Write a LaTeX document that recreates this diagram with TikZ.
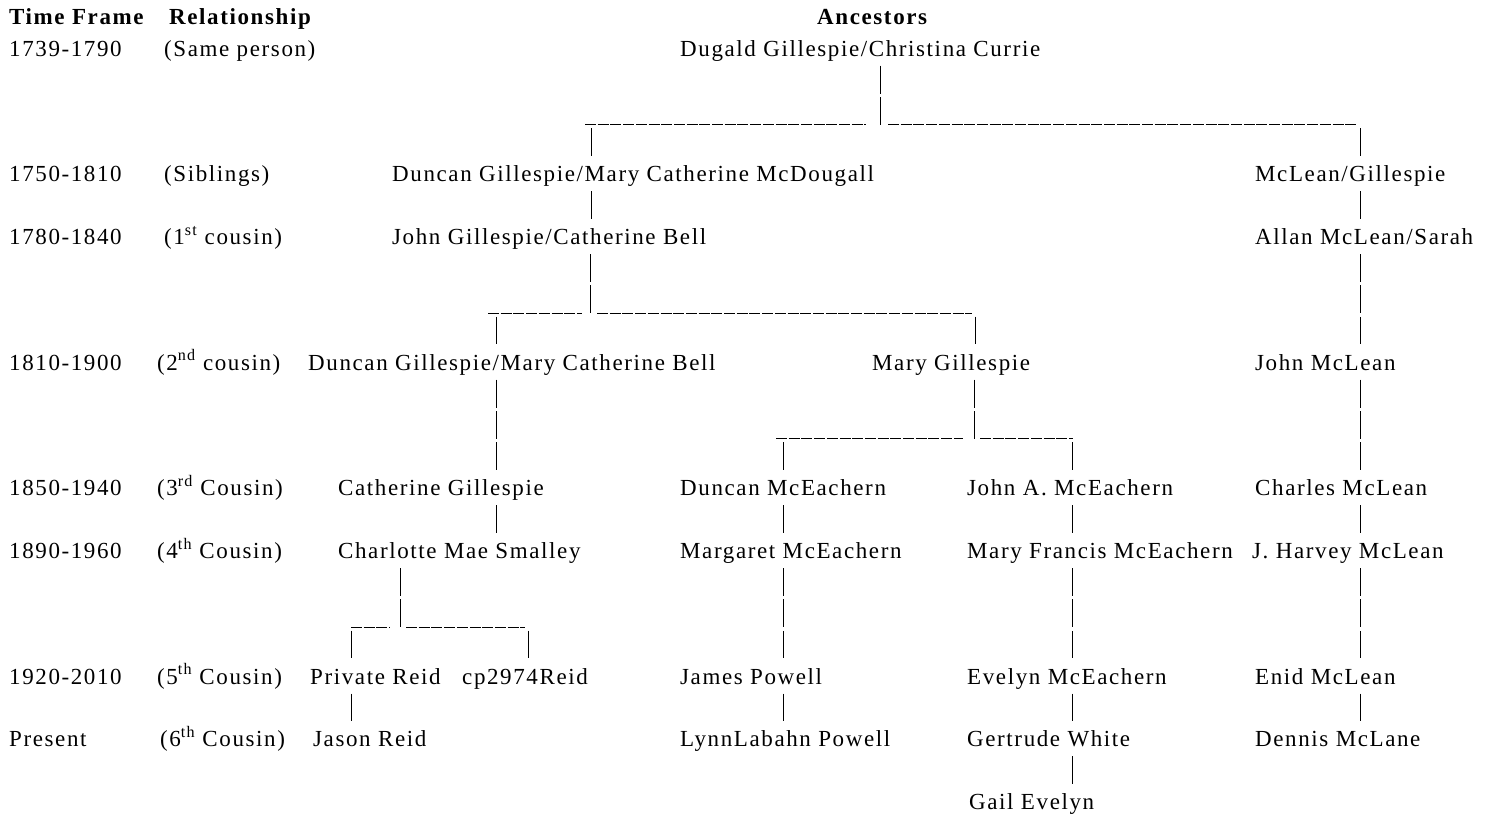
\documentclass[tikz,border=0pt]{standalone}
\usepackage{fontspec}
\setmainfont{Liberation Serif}[LetterSpace=7]
\begin{document}
\begin{tikzpicture}[x=1pt,y=-1pt,
  lbl/.style={anchor=base west, inner sep=0pt, text height=16pt, text depth=6pt, font=\fontsize{23}{27}\selectfont},
  hdr/.style={lbl, font=\fontsize{23}{27}\selectfont\bfseries},
  vbar/.style={line width=1pt, dash pattern=on 28pt off 3.4pt},
  hbar/.style={line width=1pt, dash pattern=on 11pt off 1.7pt},
  down/.style={vbar, shorten <=3.4pt, shorten >=9.4pt}]
\useasboundingbox[fill=white] (0,0) rectangle (1492,814);
% headers
\node[hdr] (hTF) at (9,24.6) {Time Frame};
\node[hdr] (hRel) at (169,24.6) {Relationship};
\node[hdr] (hAnc) at (817,24.6) {Ancestors};
% time frames
\node[lbl] (t0) at (9,56) {1739-1790};
\node[lbl] (t1) at (9,181.6) {1750-1810};
\node[lbl] (t2) at (9,244.4) {1780-1840};
\node[lbl] (t3) at (9,370) {1810-1900};
\node[lbl] (t4) at (9,495.6) {1850-1940};
\node[lbl] (t5) at (9,558.4) {1890-1960};
\node[lbl] (t6) at (9,684) {1920-2010};
\node[lbl] (t7) at (9,746.8) {Present};
% relationships
\node[lbl] (r0) at (164,56) {(Same person)};
\node[lbl] (r1) at (164,181.6) {(Siblings)};
\node[lbl] (r2) at (164,244.4) {(1\textsuperscript{st} cousin)};
\node[lbl] (r3) at (157,370) {(2\textsuperscript{nd} cousin)};
\node[lbl] (r4) at (157,495.6) {(3\textsuperscript{rd} Cousin)};
\node[lbl] (r5) at (157,558.4) {(4\textsuperscript{th} Cousin)};
\node[lbl] (r6) at (157,684) {(5\textsuperscript{th} Cousin)};
\node[lbl] (r7) at (160,746.8) {(6\textsuperscript{th} Cousin)};
% people
\node[lbl] (dugald) at (680,56) {Dugald Gillespie/Christina Currie};
\node[lbl] (duncan1) at (392,181.6) {Duncan Gillespie/Mary Catherine McDougall};
\node[lbl] (mclean1) at (1255,181.6) {McLean/Gillespie};
\node[lbl] (johng) at (392,244.4) {John Gillespie/Catherine Bell};
\node[lbl] (allan) at (1255,244.4) {Allan McLean/Sarah};
\node[lbl] (duncan2) at (308,370) {Duncan Gillespie/Mary Catherine Bell};
\node[lbl] (maryg) at (872,370) {Mary Gillespie};
\node[lbl] (johnm) at (1255,370) {John McLean};
\node[lbl] (cathg) at (338,495.6) {Catherine Gillespie};
\node[lbl] (duncanm) at (680,495.6) {Duncan McEachern};
\node[lbl] (johnam) at (967,495.6) {John A. McEachern};
\node[lbl] (charles) at (1255,495.6) {Charles McLean};
\node[lbl] (charlotte) at (338,558.4) {Charlotte Mae Smalley};
\node[lbl] (margaret) at (680,558.4) {Margaret McEachern};
\node[lbl] (maryf) at (967,558.4) {Mary Francis McEachern};
\node[lbl] (harvey) at (1252,558.4) {J. Harvey McLean};
\node[lbl] (private) at (310,684) {Private Reid};
\node[lbl] (cp) at (462,684) {cp2974Reid};
\node[lbl] (james) at (680,684) {James Powell};
\node[lbl] (evelyn) at (967,684) {Evelyn McEachern};
\node[lbl] (enid) at (1255,684) {Enid McLean};
\node[lbl] (jason) at (313,746.8) {Jason Reid};
\node[lbl] (lynn) at (680,746.8) {LynnLabahn Powell};
\node[lbl] (gertrude) at (967,746.8) {Gertrude White};
\node[lbl] (dennis) at (1255,746.8) {Dennis McLane};
\node[lbl] (gail) at (969,809.6) {Gail Evelyn};
% junctions
\coordinate (jA) at (880,124.8);
\coordinate (jAl) at (591,124.8);
\coordinate (jAr) at (1360,124.8);
\coordinate (jB) at (590,313.2);
\coordinate (jBl) at (496,313.2);
\coordinate (jBr) at (975,313.2);
\coordinate (jC) at (974,438.8);
\coordinate (jCl) at (783,438.8);
\coordinate (jCr) at (1072,438.8);
\coordinate (jD) at (400,627.2);
\coordinate (jDl) at (351,627.2);
\coordinate (jDr) at (528,627.2);
% junction A
\draw[vbar, shorten <=3.4pt] (dugald.south -| jA) -- (jA);
\draw[hbar] ([xshift=-6pt]jAl) -- ([xshift=-14pt]jA);
\draw[hbar] ([xshift=8pt]jA) -- ([xshift=-4pt]jAr);
\draw[down] (jAl) -- (duncan1.north -| jAl);
\draw[down] (jAr) -- (mclean1.north -| jAr);
% Gillespie main line
\draw[down] (duncan1.south -| jAl) -- (johng.north -| jAl);
\draw[vbar, shorten <=3.4pt] (johng.south -| jB) -- (jB);
\draw[hbar] ([xshift=-8pt]jBl) -- ([xshift=-8pt]jB);
\draw[hbar] ([xshift=7pt]jB) -- ([xshift=-3pt]jBr);
\draw[down] (jBl) -- (duncan2.north -| jBl);
\draw[down] (jBr) -- (maryg.north -| jBr);
\draw[down] (duncan2.south -| jBl) -- (cathg.north -| jBl);
\draw[down] (cathg.south -| jBl) -- (charlotte.north -| jBl);
\draw[vbar, shorten <=3.4pt] (charlotte.south -| jD) -- (jD);
\draw[hbar] (jDl) -- ([xshift=-10pt]jD);
\draw[hbar] ([xshift=6pt]jD) -- ([xshift=-3pt]jDr);
\draw[down] (jDl) -- (private.north -| jDl);
\draw[down] (jDr) -- (cp.north -| jDr);
\draw[down] (private.south -| jDl) -- (jason.north -| jDl);
% Mary Gillespie line
\draw[vbar, shorten <=3.4pt] (maryg.south -| jC) -- (jC);
\draw[hbar] ([xshift=-7pt]jCl) -- ([xshift=-11pt]jC);
\draw[hbar] ([xshift=6pt]jC) -- ([xshift=1pt]jCr);
\draw[down] (jCl) -- (duncanm.north -| jCl);
\draw[down] (jCr) -- (johnam.north -| jCr);
\draw[down] (duncanm.south -| jCl) -- (margaret.north -| jCl);
\draw[down] (margaret.south -| jCl) -- (james.north -| jCl);
\draw[down] (james.south -| jCl) -- (lynn.north -| jCl);
\draw[down] (johnam.south -| jCr) -- (maryf.north -| jCr);
\draw[down] (maryf.south -| jCr) -- (evelyn.north -| jCr);
\draw[down] (evelyn.south -| jCr) -- (gertrude.north -| jCr);
\draw[down] (gertrude.south -| jCr) -- (gail.north -| jCr);
% McLean line
\draw[down] (mclean1.south -| jAr) -- (allan.north -| jAr);
\draw[down] (allan.south -| jAr) -- (johnm.north -| jAr);
\draw[down] (johnm.south -| jAr) -- (charles.north -| jAr);
\draw[down] (charles.south -| jAr) -- (harvey.north -| jAr);
\draw[down] (harvey.south -| jAr) -- (enid.north -| jAr);
\draw[down] (enid.south -| jAr) -- (dennis.north -| jAr);
\end{tikzpicture}
\end{document}
